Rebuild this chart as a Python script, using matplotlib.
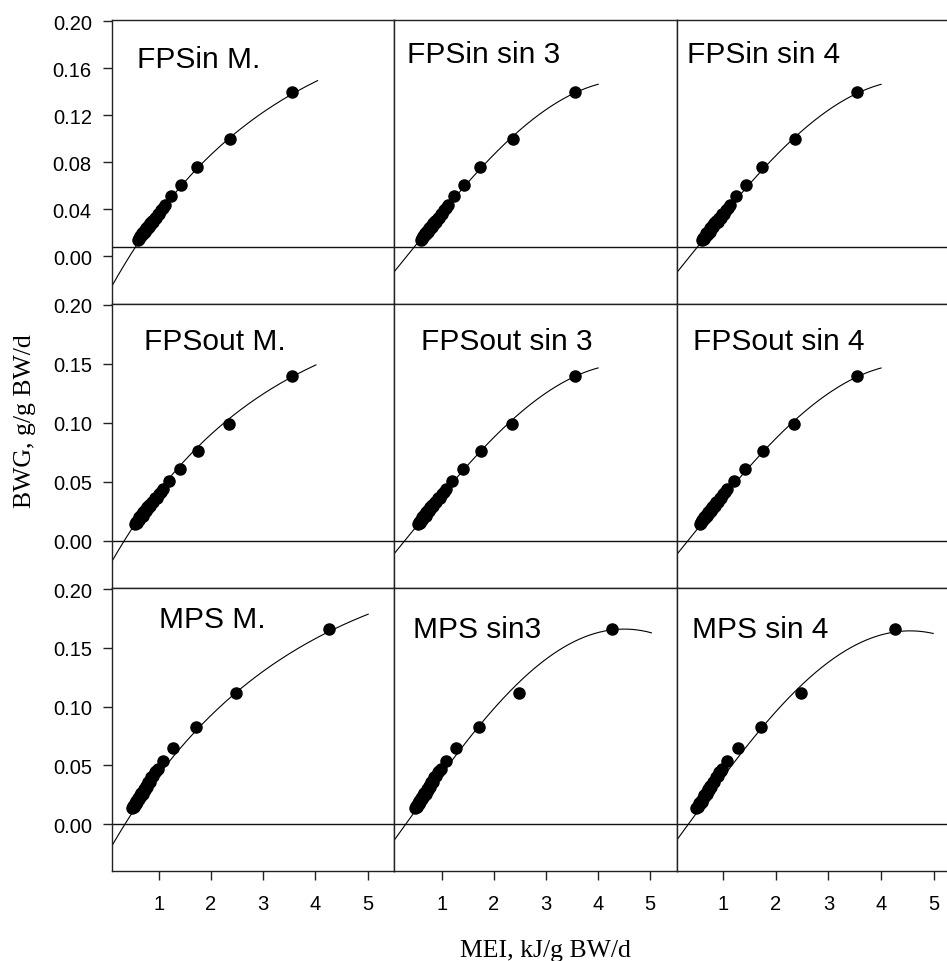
import numpy as np
import matplotlib
matplotlib.use("Agg")
import matplotlib.pyplot as plt

# ---------------- data ----------------
fpsin_mei = [0.60, 0.62, 0.63, 0.65, 0.67, 0.68, 0.70, 0.72, 0.74, 0.75, 0.77, 0.79,
             0.81, 0.83, 0.85, 0.87, 0.89, 0.92, 0.95, 0.98, 1.01, 1.05, 1.09, 1.13,
             1.24, 1.43, 1.74, 2.37, 3.55]
fpsin_bwg = [0.0140, 0.0158, 0.0152, 0.0177, 0.0172, 0.0196, 0.0188, 0.0220, 0.0210,
             0.0240, 0.0230, 0.0260, 0.0250, 0.0282, 0.0272, 0.0305, 0.0295, 0.0328,
             0.0330, 0.0358, 0.0362, 0.0398, 0.0410, 0.0440,
             0.051, 0.061, 0.076, 0.100, 0.140]

fpsout_mei = [0.55, 0.57, 0.58, 0.60, 0.62, 0.63, 0.65, 0.67, 0.69, 0.70, 0.72, 0.74,
              0.76, 0.78, 0.80, 0.82, 0.84, 0.87, 0.90, 0.93, 0.96, 1.00, 1.04, 1.08,
              1.20, 1.41, 1.75, 2.35, 3.55]
fpsout_bwg = [0.0142, 0.0160, 0.0154, 0.0179, 0.0174, 0.0198, 0.0190, 0.0222, 0.0212,
              0.0242, 0.0232, 0.0262, 0.0252, 0.0284, 0.0274, 0.0307, 0.0297, 0.0330,
              0.0332, 0.0360, 0.0364, 0.0398, 0.0412, 0.0440,
              0.051, 0.061, 0.076, 0.099, 0.1395]

mps_mei = [0.49, 0.51, 0.52, 0.54, 0.56, 0.57, 0.59, 0.61, 0.62, 0.64, 0.66, 0.67,
           0.69, 0.71, 0.73, 0.75, 0.77, 0.80, 0.83, 0.86, 0.89, 0.92, 0.95,
           0.98, 1.08, 1.28, 1.71, 2.48, 4.26]
mps_bwg = [0.0135, 0.0155, 0.0148, 0.0175, 0.0170, 0.0196, 0.0190, 0.0222, 0.0212,
           0.0245, 0.0238, 0.0268, 0.0258, 0.0295, 0.0288, 0.0322, 0.0315, 0.0356,
           0.0362, 0.0400, 0.0405, 0.0445, 0.0450,
           0.047, 0.0534, 0.0646, 0.0829, 0.112, 0.1663]

titles = [["FPSin M.", "FPSin sin 3", "FPSin sin 4"],
          ["FPSout M.", "FPSout sin 3", "FPSout sin 4"],
          ["MPS M.", "MPS sin3", "MPS sin 4"]]

# Mitscherlich fits: y = a*(1-exp(-c*(x-x0)))   (a, c, x0, x_end)
mitscherlich_params = [(0.215, 0.33, 0.44, 4.04),
                       (0.209, 0.34, 0.34, 4.01),
                       (0.2375, 0.30, 0.355, 5.01)]
# sine fits: y = y0 + A*cos(b*(x-xp))   (y0, A, b, xp, x_end)
sin3_params = [(0.0, 0.150, 0.3675, 4.60, 4.00),
               (0.0, 0.150, 0.3644, 4.60, 4.00),
               (0.0, 0.166, 0.375, 4.50, 5.02)]
sin4_params = [(-0.002, 0.152, 0.3675, 4.60, 4.00),
               (-0.002, 0.152, 0.3644, 4.60, 4.00),
               (-0.002, 0.1665, 0.370, 4.55, 4.99)]

ytick_vals = [[0.00, 0.04, 0.08, 0.12, 0.16, 0.20],
              [0.00, 0.05, 0.10, 0.15, 0.20],
              [0.00, 0.05, 0.10, 0.15, 0.20]]
ytick_labels = [["0.00", "0.04", "0.08", "0.12", "0.16", "0.20"],
                ["0.00", "0.05", "0.10", "0.15", "0.20"],
                ["0.00", "0.05", "0.10", "0.15", "0.20"]]
xtick_vals = [1, 2, 3, 4, 5]
xtick_labels = ["1", "2", "3", "4", "5"]
zero_line = [0.008, 0.0, 0.0]

xlabel = "MEI, kJ/g BW/d"
ylabel = "BWG, g/g BW/d"

# ---------------- layout ----------------
W, H = 947, 962
fig = plt.figure(figsize=(W / 100, H / 100), dpi=100)
SANS = ["Liberation Sans", "DejaVu Sans"]
SERIF = ["Liberation Serif", "DejaVu Serif"]

col_edges = [112, 393.5, 677, 960]
row_edges = [21, 304.5, 589, 872]
col_xlims = [(0.106, 5.494), (0.076, 5.512), (0.12, 5.50)]
ylim = (-0.040, 0.201)

title_pos = [[(137, 68), (407, 62.7), (686.5, 62.7)],
             [(144, 350), (421, 350), (693, 350)],
             [(159.3, 628), (413.4, 638), (692.4, 638)]]

row_data = [(fpsin_mei, fpsin_bwg), (fpsout_mei, fpsout_bwg), (mps_mei, mps_bwg)]

for r in range(3):
    mei, bwg = row_data[r]
    for c in range(3):
        l, rr = col_edges[c], col_edges[c + 1]
        t, b = row_edges[r], row_edges[r + 1]
        ax = fig.add_axes([l / W, 1 - b / H, (rr - l) / W, (b - t) / H])
        ax.set_xlim(*col_xlims[c])
        ax.set_ylim(*ylim)
        for s in ax.spines.values():
            s.set_linewidth(1.0)
            s.set_color("#222222")
        ax.axhline(zero_line[r], color="#111111", lw=1.0, zorder=1)

        x0 = col_xlims[c][0]
        if c == 0:
            a, k, xo, xe = mitscherlich_params[r]
            xs = np.linspace(x0, xe, 300)
            ys = a * (1 - np.exp(-k * (xs - xo)))
        else:
            p = sin3_params[r] if c == 1 else sin4_params[r]
            y0, A, bb, xp, xe = p
            xs = np.linspace(x0, xe, 300)
            ys = y0 + A * np.cos(bb * (xs - xp))
        ax.plot(xs, ys, color="black", lw=0.8, zorder=2)
        ax.plot(mei, bwg, "o", color="black", ms=8, zorder=3)

        tx, ty = title_pos[r][c]
        ax.text((tx - l) / (rr - l), (b - ty) / (b - t), titles[r][c],
                transform=ax.transAxes, fontsize=21.5, family=SANS,
                ha="left", va="baseline", color="black")

        if c == 0:
            ax.set_yticks(ytick_vals[r])
            ax.set_yticklabels(ytick_labels[r], family=SANS)
            ax.tick_params(axis="y", direction="out", length=6.5, width=1.0,
                           pad=8, labelsize=14.5, color="#222222")
        else:
            ax.set_yticks([])
        if r == 2:
            ax.set_xticks(xtick_vals)
            ax.set_xticklabels(xtick_labels, family=SANS)
            ax.tick_params(axis="x", direction="out", length=6.5, width=1.0,
                           pad=10, labelsize=14.5, color="#222222")
        else:
            ax.set_xticks([])

fig.text(545 / W, 1 - 957 / H, xlabel, family=SERIF, fontsize=18.5,
         ha="center", va="baseline")
fig.text(25 / W, 1 - 421 / H, ylabel, family=SERIF, fontsize=18.5,
         rotation=90, ha="center", va="center")

fig.savefig("out.png", dpi=100, facecolor="white")
